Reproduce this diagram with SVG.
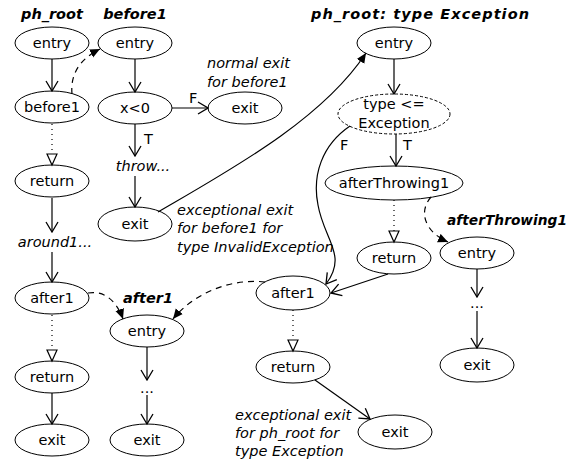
<svg xmlns="http://www.w3.org/2000/svg" width="576" height="465" viewBox="0 0 576 465">
<style>
text{font-family:"DejaVu Sans",Verdana,sans-serif;font-size:14.5px;fill:#000}
.n{text-anchor:middle;dominant-baseline:central}
.t{font-weight:bold;font-style:italic;text-anchor:middle}
.i{font-style:italic}
ellipse{fill:#fff;stroke:#000;stroke-width:1}
.dse{stroke-dasharray:3,2}
.c path,.c line{fill:none;stroke:#000;stroke-width:1.2}
.s{marker-end:url(#v)}
.dot{stroke-dasharray:1,4;marker-end:url(#h)}
.dsh{stroke-dasharray:6,5;marker-end:url(#f)}
.lng{marker-end:url(#f)}
</style>
<defs>
<marker id="v" viewBox="-1 -1 12 14" markerWidth="12" markerHeight="14" refX="10" refY="6" orient="auto" markerUnits="userSpaceOnUse"><path d="M0,0 L10,6 L0,12" fill="none" stroke="#000" stroke-width="1.3"/></marker>
<marker id="h" viewBox="-1 -1 14 12" markerWidth="14" markerHeight="12" refX="11" refY="5" orient="auto" markerUnits="userSpaceOnUse"><path d="M0,0 L11,5 L0,10 Z" fill="#fff" stroke="#000" stroke-width="1.2"/></marker>
<marker id="f" viewBox="0 0 10 10" markerWidth="10" markerHeight="10" refX="10" refY="5" orient="auto" markerUnits="userSpaceOnUse"><path d="M0,0.5 L10,5 L0,9.5 Z" fill="#000"/></marker>
</defs>

<g id="labels">
<text class="t" x="52" y="19">ph_root</text>
<text class="t" x="135" y="19">before1</text>
<text class="t" x="311" y="19" style="text-anchor:start" textLength="218" lengthAdjust="spacing">ph_root: type Exception</text>
<text class="t" x="148" y="303">after1</text>
<text class="t" x="447" y="225" style="text-anchor:start" textLength="120" lengthAdjust="spacingAndGlyphs">afterThrowing1</text>
<text class="i" x="207" y="68">normal exit</text>
<text class="i" x="207" y="87">for before1</text>
<text class="i" x="177" y="215">exceptional exit</text>
<text class="i" x="177" y="233">for before1 for</text>
<text class="i" x="177" y="252">type InvalidException</text>
<text class="i" x="235" y="420">exceptional exit</text>
<text class="i" x="235" y="438">for ph_root for</text>
<text class="i" x="235" y="456">type Exception</text>
<text x="189" y="103">F</text>
<text x="144" y="144">T</text>
<text x="340" y="150">F</text>
<text x="403" y="150">T</text>
</g>

<g id="n_root_entry"><ellipse cx="52" cy="43" rx="37" ry="16"/><text class="n" x="52" y="43">entry</text></g>
<g id="n_root_before1"><ellipse cx="52" cy="107" rx="37" ry="16"/><text class="n" x="52" y="107">before1</text></g>
<g id="n_root_return1"><ellipse cx="52" cy="181" rx="37" ry="16"/><text class="n" x="52" y="181">return</text></g>
<g id="n_root_around1"><text class="n i" x="55" y="242">around1...</text></g>
<g id="n_root_after1"><ellipse cx="52" cy="298" rx="37" ry="16"/><text class="n" x="52" y="298">after1</text></g>
<g id="n_root_return2"><ellipse cx="52" cy="377" rx="37" ry="16"/><text class="n" x="52" y="377">return</text></g>
<g id="n_root_exit"><ellipse cx="52" cy="440" rx="37" ry="16"/><text class="n" x="52" y="440">exit</text></g>

<g id="n_b_entry"><ellipse cx="135" cy="43" rx="37" ry="16"/><text class="n" x="135" y="43">entry</text></g>
<g id="n_b_cond"><ellipse cx="135" cy="108" rx="37" ry="16"/><text class="n" x="135" y="108">x&lt;0</text></g>
<g id="n_b_exitn"><ellipse cx="245" cy="108" rx="37" ry="16"/><text class="n" x="245" y="108">exit</text></g>
<g id="n_b_throw"><text class="n i" x="143" y="166">throw...</text></g>
<g id="n_b_exite"><ellipse cx="135" cy="224" rx="37" ry="17"/><text class="n" x="135" y="224">exit</text></g>

<g id="n_a_entry"><ellipse cx="147" cy="331" rx="37" ry="16"/><text class="n" x="147" y="331">entry</text></g>
<g id="n_a_dots"><text class="n" x="147" y="388">...</text></g>
<g id="n_a_exit"><ellipse cx="147" cy="440" rx="37" ry="16"/><text class="n" x="147" y="440">exit</text></g>

<g id="n_e_entry"><ellipse cx="394" cy="43" rx="37" ry="16"/><text class="n" x="394" y="43">entry</text></g>
<g id="n_e_cond"><ellipse class="dse" cx="394" cy="114" rx="56" ry="20"/><text class="n" x="394" y="104">type &lt;=</text><text class="n" x="394" y="123">Exception</text></g>
<g id="n_e_at1"><ellipse cx="394" cy="183" rx="69" ry="17"/><text class="n" x="394" y="183">afterThrowing1</text></g>
<g id="n_e_return1"><ellipse cx="394" cy="258" rx="37" ry="16"/><text class="n" x="394" y="258">return</text></g>
<g id="n_e_after1"><ellipse cx="293" cy="293" rx="37" ry="17"/><text class="n" x="293" y="293">after1</text></g>
<g id="n_e_return2"><ellipse cx="293" cy="367" rx="37" ry="16"/><text class="n" x="293" y="367">return</text></g>
<g id="n_e_exit"><ellipse cx="395" cy="432" rx="37" ry="17"/><text class="n" x="395" y="432">exit</text></g>

<g id="n_t_entry"><ellipse cx="477" cy="253" rx="37" ry="16"/><text class="n" x="477" y="253">entry</text></g>
<g id="n_t_dots"><text class="n" x="477" y="303">...</text></g>
<g id="n_t_exit"><ellipse cx="477" cy="365" rx="37" ry="17"/><text class="n" x="477" y="365">exit</text></g>

<g id="connectors" class="c">
<line class="s" x1="52" y1="59" x2="52" y2="91"/>
<line class="dot" x1="52" y1="124" x2="52" y2="165"/>
<line class="s" x1="52" y1="198" x2="52" y2="232"/>
<line class="s" x1="52" y1="252" x2="52" y2="282"/>
<line class="dot" x1="52" y1="315" x2="52" y2="361"/>
<line class="s" x1="52" y1="393" x2="52" y2="424"/>

<line class="s" x1="135" y1="59" x2="135" y2="92"/>
<line class="s" x1="172" y1="108" x2="208" y2="108"/>
<line class="s" x1="135" y1="124" x2="135" y2="156"/>
<line class="s" x1="135" y1="176" x2="135" y2="207"/>

<line class="s" x1="147" y1="347" x2="147" y2="380"/>
<line class="s" x1="147" y1="395" x2="147" y2="424"/>

<line class="s" x1="394" y1="59" x2="394" y2="94"/>
<line class="s" x1="396" y1="134" x2="396" y2="166"/>
<line class="dot" x1="394" y1="200" x2="394" y2="242"/>
<path class="s" d="M350,126 C322,145 312,175 318,205 C324,240 348,255 326,284"/>
<line class="s" x1="388" y1="274" x2="331" y2="293"/>
<line class="dot" x1="293" y1="310" x2="293" y2="351"/>
<line class="s" x1="315" y1="380" x2="370" y2="419"/>

<line class="s" x1="477" y1="269" x2="477" y2="297"/>
<line class="s" x1="477" y1="311" x2="477" y2="348"/>

<path class="dsh" d="M72,94 C70,72 82,58 100,49"/>
<path class="lng" d="M158,212 C230,170 322,120 366,53"/>
<path class="dsh" d="M88,293 C105,290 117,302 123,319"/>
<path class="dsh" d="M265,282 C230,278 193,294 173,319"/>
<path class="dsh" d="M431,197 C418,212 425,232 448,242"/>
</g>
</svg>
